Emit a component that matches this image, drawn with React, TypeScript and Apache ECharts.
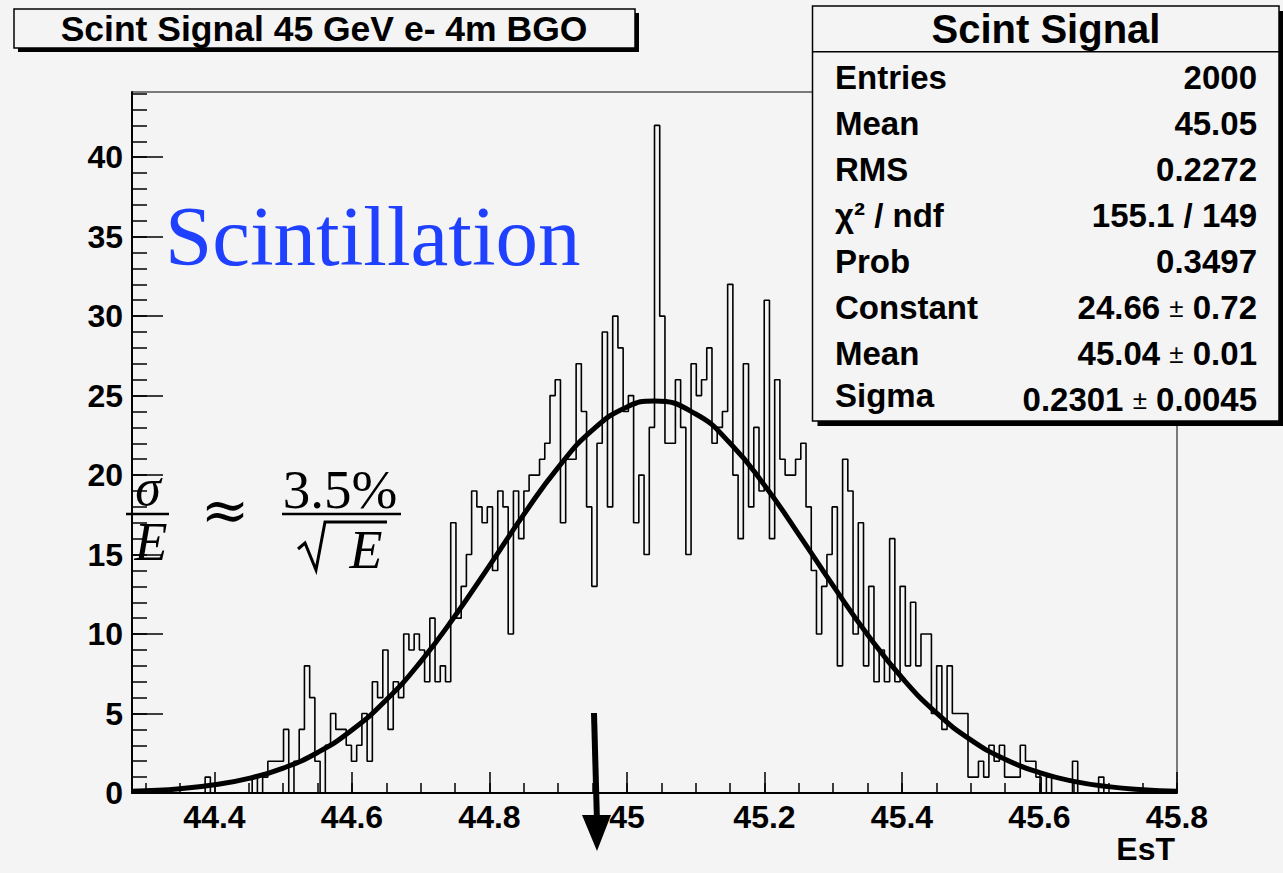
import React, { useEffect, useRef } from "react";
import * as echarts from "echarts";

// ---- data ----
const BIN_MIN = 44.28;
const BIN_MAX = 45.8;
const binCounts = [
  0, 0, 0, 0, 0, 0, 0, 0, 0, 0,
  0, 0, 0, 0, 1, 0, 0, 0, 0, 0,
  0, 0, 0, 1, 0, 1, 2, 2, 2, 4,
  0, 2, 4, 8, 6, 2, 0, 3, 5, 4,
  4, 3, 2, 3, 5, 2, 7, 6, 9, 4,
  7, 6, 10, 9, 10, 9, 7, 11, 7, 8,
  7, 17, 11, 13, 15, 19, 18, 17, 18, 14,
  19, 18, 10, 19, 16, 19, 20, 20, 21, 22,
  25, 26, 17, 21, 21, 27, 24, 18, 13, 22,
  29, 18, 30, 28, 24, 25, 17, 20, 15, 23,
  42, 30, 22, 22, 26, 23, 15, 27, 25, 26,
  28, 22, 23, 24, 32, 20, 16, 27, 18, 23,
  19, 31, 16, 26, 21, 20, 20, 21, 22, 18,
  14, 10, 13, 15, 18, 8, 21, 19, 10, 17,
  8, 13, 7, 9, 7, 16, 7, 13, 8, 12,
  8, 10, 10, 5, 8, 4, 8, 5, 5, 5,
  1, 1, 2, 1, 3, 2, 3, 1, 1, 1,
  3, 2, 2, 1, 0, 1, 0, 0, 0, 0,
  2, 0, 0, 0, 0, 1, 0, 0, 0, 0,
  0, 0, 0, 0, 0, 0, 0, 0, 0, 0,
];

// Gaussian fit curve
const fitX = [44.28, 44.3, 44.35, 44.4, 44.45, 44.5, 44.55, 44.6, 44.65, 44.7, 44.75, 44.8, 44.85, 44.9, 44.95, 45.0, 45.04, 45.1, 45.15, 45.2, 45.25, 45.3, 45.35, 45.4, 45.45, 45.5, 45.55, 45.6, 45.65, 45.7, 45.75, 45.8];
const fitY = [0.11, 0.14, 0.27, 0.52, 0.92, 1.57, 2.55, 3.96, 5.86, 8.27, 11.15, 14.31, 17.53, 20.49, 22.84, 24.29, 24.66, 23.84, 22.0, 19.36, 16.26, 13.03, 9.95, 7.25, 5.04, 3.34, 2.12, 1.28, 0.73, 0.4, 0.21, 0.11];

const xMajorTicks = [44.4, 44.6, 44.8, 45, 45.2, 45.4, 45.6, 45.8];
const xMinorTicks = [44.3, 44.35, 44.4, 44.45, 44.5, 44.55, 44.6, 44.65, 44.7, 44.75, 44.8, 44.85, 44.9, 44.95, 45, 45.05, 45.1, 45.15, 45.2, 45.25, 45.3, 45.35, 45.4, 45.45, 45.5, 45.55, 45.6, 45.65, 45.7, 45.75, 45.8];
const yMajorTicks = [0, 5, 10, 15, 20, 25, 30, 35, 40];
const yMinorTicks = [0, 1, 2, 3, 4, 5, 6, 7, 8, 9, 10, 11, 12, 13, 14, 15, 16, 17, 18, 19, 20, 21, 22, 23, 24, 25, 26, 27, 28, 29, 30, 31, 32, 33, 34, 35, 36, 37, 38, 39, 40, 41, 42, 43, 44];
const Y_MAX = 44.1;

const titleText = "Scint Signal 45 GeV e- 4m BGO";
const statsTitle = "Scint Signal";
const statsLabels = ["Entries", "Mean", "RMS", "χ² / ndf", "Prob", "Constant", "Mean", "Sigma"];
const statsValues = ["2000", "45.05", "0.2272", "155.1 / 149", "0.3497", "24.66 ± 0.72", "45.04 ± 0.01", "0.2301 ± 0.0045"];
const xAxisTitle = "EsT";
const annotationText = "Scintillation";

const BG = "#f4f4f4";
const SANS = '"Liberation Sans", Arial, Helvetica, sans-serif';
const SERIF = '"Liberation Serif", "Times New Roman", serif';
const MATH = '"DejaVu Serif", "Liberation Serif", serif';

export default function App() {
  const ref = useRef<HTMLDivElement>(null);

  useEffect(() => {
    if (!ref.current) return;
    const chart = echarts.init(ref.current, null, { renderer: "svg" });
    const binWidth = (BIN_MAX - BIN_MIN) / binCounts.length;
    const histData: number[][] = binCounts.map((v, i) => [BIN_MIN + i * binWidth, v]);
    histData.push([BIN_MAX, binCounts[binCounts.length - 1]]);
    const fitData = fitX.map((x, i) => [x, fitY[i]]);

    const gridLeft = 132, gridTop = 92, gridW = 1045, gridH = 701;

    const labelFont = { fontFamily: SANS, fontWeight: "bold" as const, fontSize: 32, color: "#000" };

    const graphic: any[] = [];
    // title box with shadow
    graphic.push({ type: "rect", z: 100, shape: { x: 18, y: 13, width: 621, height: 39 }, style: { fill: "#000" } });
    graphic.push({ type: "rect", z: 101, shape: { x: 14, y: 9, width: 621, height: 39 }, style: { fill: BG, stroke: "#000", lineWidth: 1.5 } });
    graphic.push({ type: "text", z: 102, x: 324, y: 29, style: { text: titleText, font: `bold 35.5px ${SANS}`, fill: "#000", align: "center", verticalAlign: "middle" } });

    // stats box
    const sx = 812.5, sy = 6, sw = 466.5, sh = 415;
    graphic.push({ type: "rect", z: 100, shape: { x: sx + 5, y: sy + 5, width: sw, height: sh }, style: { fill: "#000" } });
    graphic.push({ type: "rect", z: 101, shape: { x: sx, y: sy, width: sw, height: sh }, style: { fill: BG, stroke: "#000", lineWidth: 1.5 } });
    graphic.push({ type: "line", z: 102, shape: { x1: sx, y1: 51.7, x2: sx + sw, y2: 51.7 }, style: { stroke: "#000", lineWidth: 1.5 } });
    graphic.push({ type: "text", z: 102, x: 1046, y: 28.5, style: { text: statsTitle, font: `bold 40px ${SANS}`, fill: "#000", align: "center", verticalAlign: "middle" } });
    statsLabels.forEach((lab, i) => {
      const yL = i === 7 ? 395.5 : 77.2 + i * 46.1;
      const yV = i === 7 ? 399.5 : 77.2 + i * 46.1;
      graphic.push({ type: "text", z: 102, x: 835, y: yL, style: { text: lab, font: `bold 33px ${SANS}`, fill: "#000", align: "left", verticalAlign: "middle" } });
      const val = statsValues[i];
      const parts = val.split("±");
      const rich = parts.length > 1 ? `{v|${parts[0].trim()} }{pm|±}{v| ${parts[1].trim()}}` : `{v|${val}}`;
      graphic.push({
        type: "text", z: 102, x: 1257, y: yV,
        style: {
          text: rich, align: "right", verticalAlign: "middle", fill: "#000",
          rich: {
            v: { font: `bold 33px ${SANS}`, fill: "#000" },
            pm: { font: `26px ${SANS}`, fill: "#000" },
          },
        },
      });
    });

    // Scintillation annotation
    graphic.push({ type: "text", z: 50, x: 165, y: 236, style: { text: annotationText, font: `85px ${SERIF}`, fill: "#2040ff", align: "left", verticalAlign: "middle" } });

    // formula sigma/E ~ 3.5%/sqrt(E)
    graphic.push({ type: "text", z: 50, x: 148, y: 487, style: { text: "σ", font: `italic 52px ${SERIF}`, fill: "#000", align: "center", verticalAlign: "middle" } });
    graphic.push({ type: "line", z: 50, shape: { x1: 126, y1: 514, x2: 169, y2: 514 }, style: { stroke: "#000", lineWidth: 2.5 } });
    graphic.push({ type: "text", z: 50, x: 151, y: 542, style: { text: "E", font: `italic 54px ${SERIF}`, fill: "#000", align: "center", verticalAlign: "middle" } });
    graphic.push({ type: "text", z: 50, x: 225, y: 510, style: { text: "≈", font: `58px ${MATH}`, fill: "#000", align: "center", verticalAlign: "middle" } });
    graphic.push({ type: "text", z: 50, x: 340, y: 489, style: { text: "3.5%", font: `55px ${SERIF}`, fill: "#000", align: "center", verticalAlign: "middle" } });
    graphic.push({ type: "line", z: 50, shape: { x1: 282, y1: 514, x2: 401, y2: 514 }, style: { stroke: "#000", lineWidth: 2.5 } });
    graphic.push({ type: "polyline", z: 50, shape: { points: [[298, 549], [305, 543], [316, 570], [325, 522], [387, 522]] }, style: { stroke: "#000", lineWidth: 3, fill: "none" } });
    graphic.push({ type: "text", z: 50, x: 366, y: 550, style: { text: "E", font: `italic 54px ${SERIF}`, fill: "#000", align: "center", verticalAlign: "middle" } });

    // arrow
    graphic.push({ type: "line", z: 50, shape: { x1: 594, y1: 713, x2: 597, y2: 822 }, style: { stroke: "#000", lineWidth: 6 } });
    graphic.push({ type: "polygon", z: 50, shape: { points: [[582, 815], [611, 815], [597, 851]] }, style: { fill: "#000" } });

    // x axis title
    graphic.push({ type: "text", z: 50, x: 1175, y: 849, style: { text: xAxisTitle, font: `bold 32px ${SANS}`, fill: "#000", align: "right", verticalAlign: "middle" } });

    const option: any = {
      animation: false,
      backgroundColor: BG,
      grid: { left: gridLeft, top: gridTop, width: gridW, height: gridH, show: true, borderColor: "#000", borderWidth: 1, backgroundColor: "transparent" },
      xAxis: [
        {
          type: "value", min: BIN_MIN, max: BIN_MAX, position: "bottom",
          axisLine: { show: true, onZero: false, lineStyle: { color: "#000", width: 2 } },
          axisTick: { show: true, inside: true, length: 21, customValues: xMajorTicks, lineStyle: { color: "#000", width: 1.5 } },
          axisLabel: { show: true, customValues: xMajorTicks, margin: 8, ...labelFont, formatter: (v: number) => String(Math.round(v * 10) / 10) },
          splitLine: { show: false },
        },
        {
          type: "value", min: BIN_MIN, max: BIN_MAX, position: "bottom",
          axisLine: { show: false },
          axisTick: { show: true, inside: true, length: 10, customValues: xMinorTicks, lineStyle: { color: "#000", width: 1.5 } },
          axisLabel: { show: false },
          splitLine: { show: false },
        },
      ],
      yAxis: [
        {
          type: "value", min: 0, max: Y_MAX, position: "left",
          axisLine: { show: true, onZero: false, lineStyle: { color: "#000", width: 2 } },
          axisTick: { show: true, inside: true, length: 31, customValues: yMajorTicks, lineStyle: { color: "#000", width: 1.5 } },
          axisLabel: { show: true, customValues: yMajorTicks, margin: 9, ...labelFont },
          splitLine: { show: false },
        },
        {
          type: "value", min: 0, max: Y_MAX, position: "left",
          axisLine: { show: false },
          axisTick: { show: true, inside: true, length: 15, customValues: yMinorTicks, lineStyle: { color: "#000", width: 1.5 } },
          axisLabel: { show: false },
          splitLine: { show: false },
        },
      ],
      series: [
        {
          type: "line", name: "hist", xAxisIndex: 0, yAxisIndex: 0, data: histData, step: "end",
          symbol: "none", lineStyle: { color: "#000", width: 1.6 }, z: 3, silent: true,
        },
        {
          type: "line", name: "fit", xAxisIndex: 0, yAxisIndex: 0, data: fitData, smooth: true,
          symbol: "none", lineStyle: { color: "#000", width: 5 }, z: 4, silent: true,
        },
      ],
      graphic,
    };
    chart.setOption(option);
    return () => chart.dispose();
  }, []);

  return (
    <div
      ref={ref}
      style={{ position: "fixed", left: 0, top: 0, width: 1283, height: 873, background: BG }}
    />
  );
}
